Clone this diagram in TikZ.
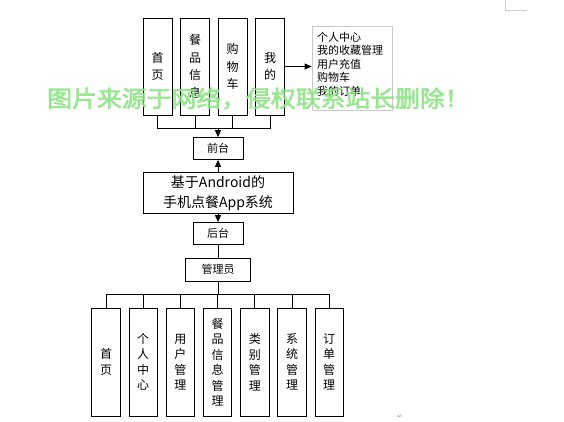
\documentclass[tikz,border=0pt]{standalone}
\usepackage{fontspec}
\setmainfont{Noto Sans CJK SC}
\newfontfamily\wmfont{Noto Sans CJK SC}[FakeBold=2.5]
\newfontfamily\symfont{DejaVu Sans}
\usetikzlibrary{arrows.meta}

\definecolor{wmgreen}{RGB}{140,228,130}
\definecolor{infogray}{RGB}{200,200,200}

\begin{document}
\begin{tikzpicture}[x=1pt, y=-1pt, line width=0.8pt,
    tallbox/.style={draw, minimum width=29pt, minimum height=97pt, inner sep=0pt, align=center, font=\fontsize{12}{17.5}\selectfont},
    lowbox/.style={draw, minimum width=28.5pt, minimum height=108pt, inner sep=0pt, align=center, font=\fontsize{12}{15.5}\selectfont},
    smallbox/.style={draw, minimum height=22pt, inner sep=0pt, font=\fontsize{11}{13}\selectfont},
    arr/.style={-{Triangle[length=7pt,width=6pt]}}]
        \useasboundingbox (0,0) rectangle (564,421);

        \node[tallbox] (shouye) at (157.5,66.5) {首\\页};
        \node[tallbox] (canpin) at (195,66.5) {餐\\品\\信\\息};
        \node[tallbox] (gouwu) at (232.5,66.5) {购\\物\\车};
        \node[tallbox] (wode) at (270,66.5) {我\\的};
        \node[draw=infogray, minimum width=80pt, minimum height=83pt, text width=70pt, text depth=64pt, inner sep=5pt, align=left, font=\fontsize{11}{13.5}\selectfont] (info) at (352,68.5) {个人中心\\我的收藏管理\\用户充值\\购物车\\我的订单};

        \node[smallbox, minimum width=50pt] (qiantai) at (218,148.5) {前台};
        \node[draw, minimum width=150pt, minimum height=40pt, align=center, font=\fontsize{14}{20}\selectfont] (android) at (218,193) {基于Android的\\手机点餐App系统};
        \node[smallbox, minimum width=50pt] (houtai) at (218,233.5) {后台};
        \node[smallbox, minimum width=65pt, minimum height=23pt] (guanli) at (218,269.5) {管理员};

        \node[lowbox] (b1) at (106,362) {首\\页};
        \node[lowbox] (b2) at (143.2,362) {个\\人\\中\\心};
        \node[lowbox] (b3) at (180.4,362) {用\\户\\管\\理};
        \node[lowbox] (b4) at (217.6,362) {餐\\品\\信\\息\\管\\理};
        \node[lowbox] (b5) at (254.8,362) {类\\别\\管\\理};
        \node[lowbox] (b6) at (292,362) {系\\统\\管\\理};
        \node[lowbox] (b7) at (329.2,362) {订\\单\\管\\理};

        \coordinate (topbus) at (218,128);
        \draw (shouye.south) -- (shouye.south |- topbus) -- (wode.south |- topbus) -- (wode.south);
        \draw (canpin.south) -- (canpin.south |- topbus);
        \draw (gouwu.south) -- (gouwu.south |- topbus);
        \draw[arr] (topbus) -- (qiantai.north);
        \draw[arr] (wode.east) -- (wode.east -| info.west);

        \draw[arr] (android.north) -- (qiantai.south);
        \draw[arr] (android.south) -- (houtai.north);
        \draw (houtai.south) -- (guanli.north);

        \coordinate (botbus) at (218,294);
        \draw (guanli.south) -- (botbus);
        \draw (b1.north) -- (b1.north |- botbus) -- (b7.north |- botbus) -- (b7.north);
        \draw (b2.north) -- (b2.north |- botbus);
        \draw (b3.north) -- (b3.north |- botbus);
        \draw (b4.north) -- (b4.north |- botbus);
        \draw (b5.north) -- (b5.north |- botbus);
        \draw (b6.north) -- (b6.north |- botbus);

        \draw[gray!40, line width=0.6pt] (505,0) -- (505,10) -- (527,10);
        \node[text=gray, font=\symfont\fontsize{6}{6}\selectfont] (retmark) at (400,417) {↵};

        \node[text=wmgreen, opacity=0.85, xscale=1.08, font=\wmfont\fontsize{23}{23}\selectfont] (watermark) at (258.5,98.5) {图片来源于网络，侵权联系站长删除！};
    \end{tikzpicture}
\end{document}
